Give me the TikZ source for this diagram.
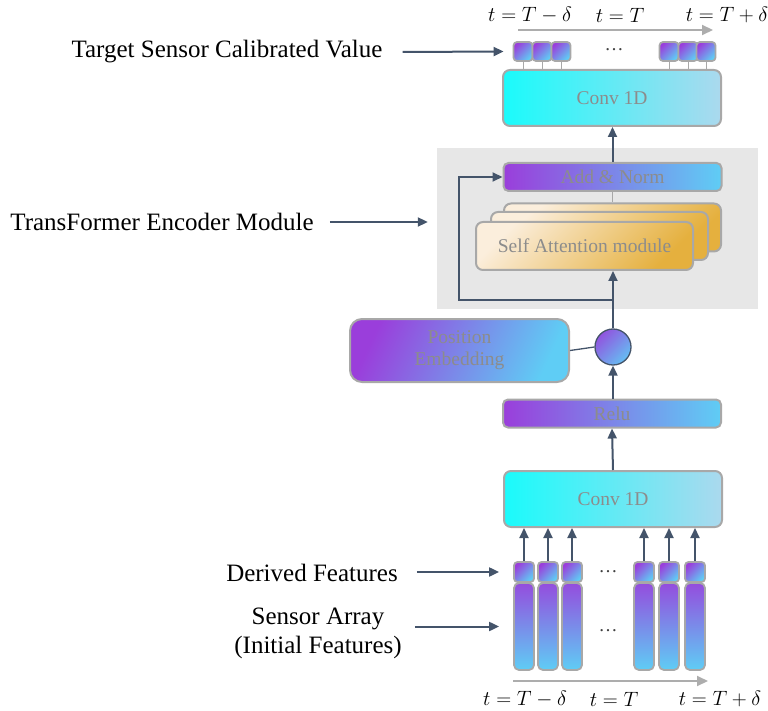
\documentclass[tikz,border=0pt]{standalone}
\usepackage{fontspec}
\setmainfont{Liberation Serif}
\usetikzlibrary{arrows.meta,calc}
\definecolor{bordergray}{HTML}{A8A8A8}
\definecolor{textgray}{HTML}{8C8C8C}
\definecolor{arrowc}{HTML}{44546A}
\definecolor{bggray}{HTML}{E7E7E7}
\definecolor{cyanL}{HTML}{1AFBFB}
\definecolor{cyanR}{HTML}{ABD9EE}
\definecolor{purp}{HTML}{9A3EDB}
\definecolor{lblue}{HTML}{5FCDF5}
\definecolor{cream}{HTML}{FBEEDC}
\definecolor{gold}{HTML}{E5B03E}
\definecolor{timegray}{HTML}{ADADAD}
\begin{document}
\begin{tikzpicture}[x=1pt,y=-1pt,
  box/.style={draw=bordergray, line width=2pt, rounded corners=7pt, inner sep=0pt,
    font=\fontsize{19.5}{22}\selectfont, text=textgray},
  convbox/.style={box, minimum width=218, minimum height=56, left color=cyanL, right color=cyanR},
  barbox/.style={box, rounded corners=5pt, minimum width=218, minimum height=28, left color=purp, right color=lblue},
  stackbox/.style={box, minimum width=217, minimum height=48, top color=cream, bottom color=gold, shading angle=45},
  sq/.style={draw=bordergray, line width=1.8pt, rounded corners=3.5pt, inner sep=0pt,
    minimum width=19, minimum height=19, top color=purp, bottom color=lblue, shading angle=45},
  dsq/.style={sq, minimum width=20, minimum height=20},
  bar/.style={draw=bordergray, line width=1.8pt, rounded corners=5pt, inner sep=0pt,
    minimum width=20, minimum height=87, top color=purp!90!lblue, bottom color=lblue},
  arr/.style={draw=arrowc, line width=2pt, -{Triangle[length=10pt,width=9pt]}},
  thin/.style={draw=bordergray, line width=1pt},
  tarr/.style={draw=timegray, line width=2pt, -{Triangle[length=11pt,width=10pt]}},
  lbl/.style={font=\fontsize{25}{29}\selectfont, text=black, inner sep=0pt},
  mlbl/.style={font=\fontsize{20.5}{24}\selectfont, text=black, inner sep=0pt},
  dots/.style={font=\fontsize{19}{22}\selectfont, text=black!75, inner sep=0pt}
]
\useasboundingbox (0,0) rectangle (768,711);

% ---------- top time axis ----------
\node[mlbl] (tt1) at (530,15) {$t=T-\delta$};
\node[mlbl] (tt2) at (620,15) {$t=T$};
\node[mlbl] (tt3) at (727,15) {$t=T+\delta$};
\coordinate (ta1) at (518,30);
\coordinate (ta2) at (713,30);
\draw[tarr] (ta1) -- (ta2);

% ---------- top output squares ----------
\node[sq] (t1) at (523,51.5) {};
\node[sq] (t2) at (542,51.5) {};
\node[sq] (t3) at (561,51.5) {};
\node[dots] (tdots) at (614,50) {\ldots};
\node[sq] (t4) at (669,51.5) {};
\node[sq] (t5) at (688,51.5) {};
\node[sq] (t6) at (706,51.5) {};

% ---------- top conv ----------
\node[convbox] (conv1) at (612,98) {Conv 1D};
\foreach \i in {1,...,6}{\draw[thin] (t\i.south) -- (t\i.south |- conv1.north);}

% ---------- encoder ----------
\node[fill=bggray, minimum width=321, minimum height=161, inner sep=0pt] (enc) at (597.5,228.5) {};
\node[barbox] (add) at (612.5,177) {Add \& Norm};
\node[stackbox] (back) at (612.5,227.5) {};
\node[stackbox] (mid) at (599.5,236) {};
\node[stackbox] (front) at (584.5,246) {Self Attention module};
\draw[thin] (add.south) -- (add.south |- back.north);

% ---------- position embedding ----------
\node[box, rounded corners=12pt, minimum width=219, minimum height=63, align=center,
  top color=purp, bottom color=lblue, shading angle=65] (pe) at (459.5,350.5) {Position\\Embedding};
\node[circle, draw=arrowc, line width=1.3pt, minimum size=36, inner sep=0pt,
  top color=purp!85!lblue, bottom color=lblue!90!purp, shading angle=45] (circ) at (613,347) {};
\draw[arrowc, line width=1.3pt] (pe.east) -- (circ.west);

% ---------- relu and bottom conv ----------
\node[barbox] (relu) at (612,413.5) {Relu};
\node[convbox] (conv2) at (613,499) {Conv 1D};

% ---------- input features ----------
\foreach \i/\x in {1/524,2/548,3/572,4/644,5/669,6/695}{
  \node[dsq] (d\i) at (\x,572) {};
  \node[bar] (b\i) at (\x,626.5) {};
  \draw[arr] (d\i.north) -- (d\i.north |- conv2.south);
}
\node[dots] (ddots) at (608,572) {\ldots};
\node[dots] (bdots) at (608,631) {\ldots};

% ---------- bottom time axis ----------
\coordinate (ba1) at (513,681);
\coordinate (ba2) at (708,681);
\draw[tarr] (ba1) -- (ba2);
\node[mlbl] (bt1) at (525,699) {$t=T-\delta$};
\node[mlbl] (bt2) at (614,699) {$t=T$};
\node[mlbl] (bt3) at (720,699) {$t=T+\delta$};

% ---------- main flow ----------
\draw[arr] (conv2.north) -- (relu.south);
\draw[arr] (relu.north -| circ.south) -- (circ.south);
\draw[arr] (circ.north) -- (circ.north |- front.south);
\coordinate (rc) at (613,300);
\coordinate (rl) at (459,300);
\draw[arr] (rc) -- (rl) |- (add.west);
\draw[arr] (add.north) -- (add.north |- conv1.south);

% ---------- left labels ----------
\node[lbl] (tl) at (227,52) {Target Sensor Calibrated Value};
\node[lbl] (el) at (162,222) {TransFormer Encoder Module};
\node[lbl] (dl) at (312,573) {Derived Features};
\node[lbl, align=center] (sl) at (318,633) {Sensor Array\\(Initial Features)};
\draw[arr] ($(tl.east)+(20,0)$) -- ($(t1.west)+(-9,0)$);
\draw[arr] ($(el.east)+(16,0)$) -- ($(enc.west |- el.east)+(-9,0)$);
\draw[arr] ($(dl.east |- d1.west)+(19,0)$) -- ($(d1.west)+(-14,0)$);
\draw[arr] ($(sl.east |- b1.west)+(13,0)$) -- ($(b1.west)+(-14,0)$);
\end{tikzpicture}
\end{document}
